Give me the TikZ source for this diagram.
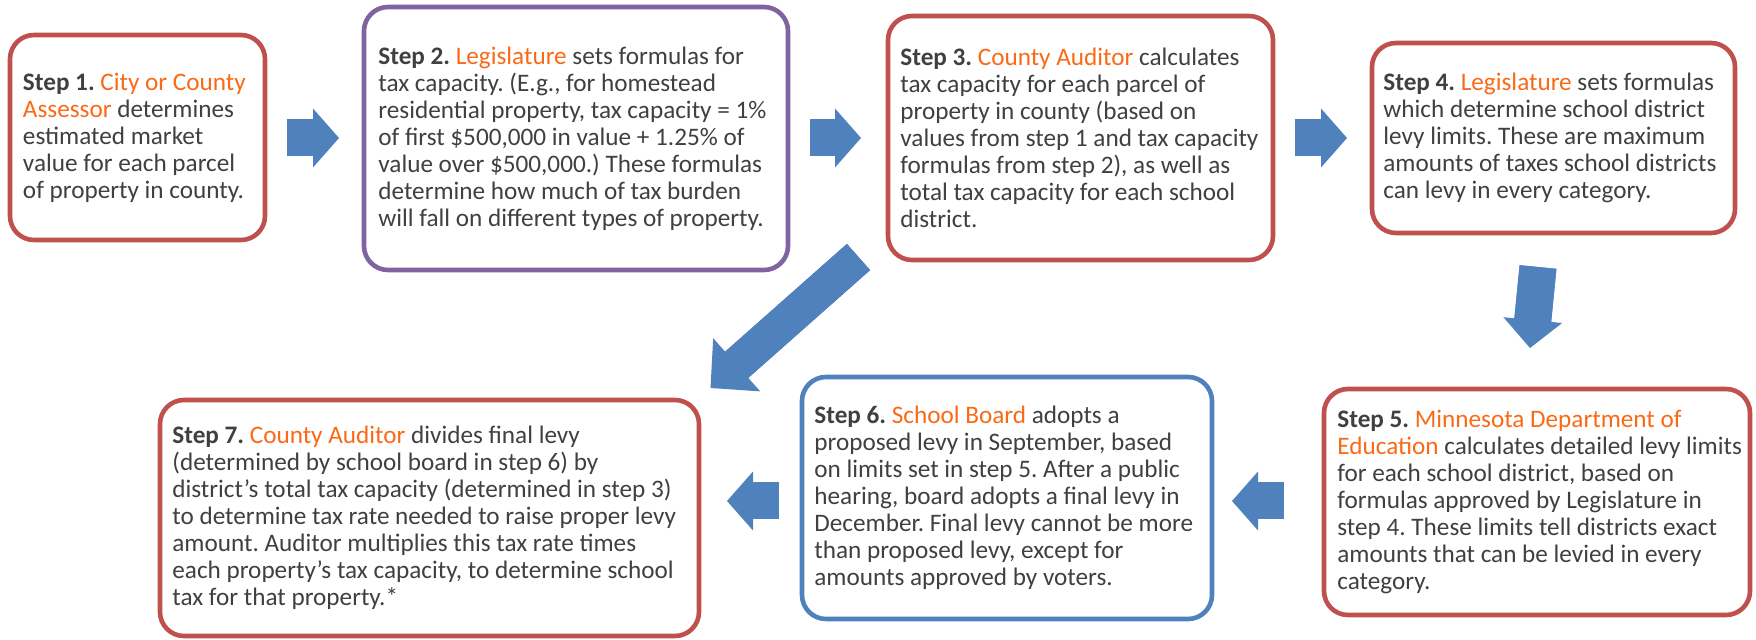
\documentclass[tikz,border=0pt]{standalone}
\usepackage{fontspec}
\setmainfont{Carlito}
\usetikzlibrary{arrows.meta,positioning}

\definecolor{boxred}{HTML}{C0504D}
\definecolor{boxpurple}{HTML}{8064A2}
\definecolor{boxblue}{HTML}{4F81BD}
\definecolor{arrowblue}{HTML}{4F81BD}
\definecolor{txtgray}{HTML}{404040}
\definecolor{actor}{RGB}{250,106,22}
\newcommand{\who}[1]{\textcolor{actor}{#1}}
\frenchspacing

\begin{document}
\begin{tikzpicture}[x=0.5pt, y=-0.5pt,
  stepbox/.style={line width=2.3pt, rounded corners=12pt, outer sep=0pt, inner sep=0pt, fill=white},
  steptext/.style={anchor=west, align=left, inner sep=0pt, text=txtgray, font=\fontsize{12.6}{13.5}\selectfont},
  flow/.style={arrowblue, line width=18.5pt, -{Triangle[length=13pt, width=29.5pt, line width=0pt]},
    postaction={draw=arrowblue, -, shorten >=12pt}}]
\useasboundingbox (0,0) rectangle (1756,640);

% Boxes, top row
\node[stepbox, draw=boxred, minimum width=127.5pt, minimum height=102.5pt] (s1) at (137.5,137.5) {};
\node[stepbox, draw=boxpurple, minimum width=212pt, minimum height=131.5pt] (s2) at (576,138.5) {};
\node[stepbox, draw=boxred, minimum width=192.5pt, minimum height=122pt] (s3) at (1080.5,138) {};
\node[stepbox, draw=boxred, minimum width=181.5pt, minimum height=95pt] (s4) at (1553.5,138) {};

% Boxes, bottom row
\node[stepbox, draw=boxred, minimum width=213pt, minimum height=113pt] (s5) at (1537,502) {};
\node[stepbox, draw=boxblue, minimum width=205pt, minimum height=121pt] (s6) at (1007,498) {};
\node[stepbox, draw=boxred, minimum width=269.5pt, minimum height=118pt] (s7) at (429.5,518) {};

% Texts
\node[steptext] (t1) at ([xshift=6.3pt]s1.west) {\textbf{Step 1.} \who{City or County}\\
  \who{Assessor} determines\\
  estimated market\\
  value for each parcel\\
  of property in county.};
\node[steptext] (t2) at ([xshift=7pt]s2.west) {\textbf{Step 2.} \who{Legislature} sets formulas for\\
  tax capacity. (E.g., for homestead\\
  residential property, tax capacity = 1\%\\
  of first \$500,000 in value + 1.25\% of\\
  value over \$500,000.) These formulas\\
  determine how much of tax burden\\
  will fall on different types of property.};
\node[steptext] (t3) at ([xshift=6pt]s3.west) {\textbf{Step 3.} \who{County Auditor} calculates\\
  tax capacity for each parcel of\\
  property in county (based on\\
  values from step 1 and tax capacity\\
  formulas from step 2), as well as\\
  total tax capacity for each school\\
  district.};
\node[steptext] (t4) at ([xshift=5.5pt]s4.west) {\textbf{Step 4.} \who{Legislature} sets formulas\\
  which determine school district\\
  levy limits. These are maximum\\
  amounts of taxes school districts\\
  can levy in every category.};
\node[steptext] (t5) at ([xshift=6.5pt]s5.west) {\textbf{Step 5.} \who{Minnesota Department of}\\
  \who{Education} calculates detailed levy limits\\
  for each school district, based on\\
  formulas approved by Legislature in\\
  step 4. These limits tell districts exact\\
  amounts that can be levied in every\\
  category.};
\node[steptext] (t6) at ([xshift=6pt]s6.west) {\textbf{Step 6.} \who{School Board} adopts a\\
  proposed levy in September, based\\
  on limits set in step 5. After a public\\
  hearing, board adopts a final levy in\\
  December. Final levy cannot be more\\
  than proposed levy, except for\\
  amounts approved by voters.};
\node[steptext] (t7) at ([xshift=6pt]s7.west) {\textbf{Step 7.} \who{County Auditor} divides final levy\\
  (determined by school board in step 6) by\\
  district’s total tax capacity (determined in step 3)\\
  to determine tax rate needed to raise proper levy\\
  amount. Auditor multiplies this tax rate times\\
  each property’s tax capacity, to determine school\\
  tax for that property.*};

% Block arrows
\coordinate (a12s) at (287,138);   \coordinate (a12e) at (339,138);
\coordinate (a23s) at (810,138);   \coordinate (a23e) at (861,138);
\coordinate (a34s) at (1295,138);  \coordinate (a34e) at (1347,138);
\coordinate (a45s) at (1538,267);  \coordinate (a45e) at (1530,348);
\coordinate (a37s) at (858.5,257); \coordinate (a37e) at (710.5,388);
\coordinate (a56s) at (1284,501);  \coordinate (a56e) at (1232,501);
\coordinate (a67s) at (779,501);   \coordinate (a67e) at (727,501);

\draw[flow] (a12s) -- (a12e);
\draw[flow] (a23s) -- (a23e);
\draw[flow] (a34s) -- (a34e);
\draw[flow, -{Triangle[length=14pt, width=29.5pt, line width=0pt]}] (a45s) -- (a45e);
\draw[flow, line width=17.5pt, -{Triangle[length=17.5pt, width=35.5pt, line width=0pt]}] (a37s) -- (a37e);
\draw[flow] (a56s) -- (a56e);
\draw[flow] (a67s) -- (a67e);
\end{tikzpicture}
\end{document}
